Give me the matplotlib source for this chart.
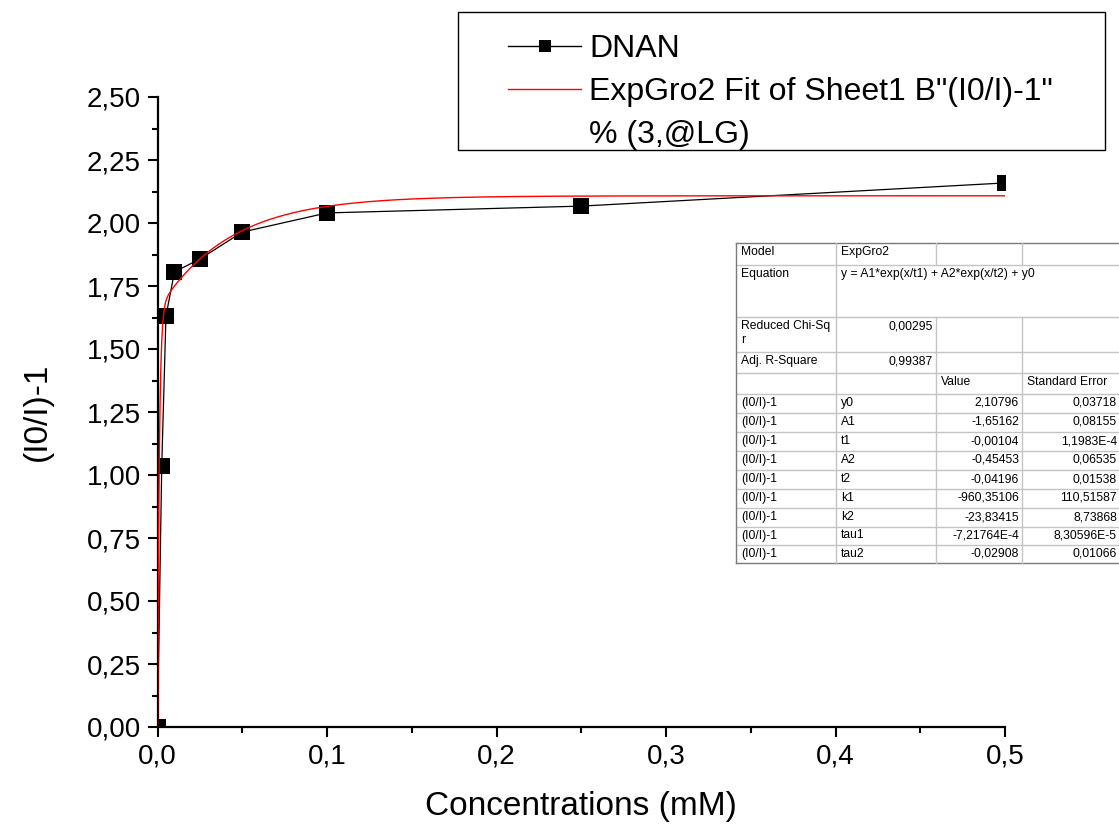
import numpy as np
import matplotlib.pyplot as plt
from matplotlib.lines import Line2D
from matplotlib.patches import Rectangle
from matplotlib.ticker import MultipleLocator, FuncFormatter

plt.rcParams['font.family'] = ['Liberation Sans', 'DejaVu Sans']

# measured quenching data for DNAN
conc = [0.0, 0.0025, 0.005, 0.01, 0.025, 0.05, 0.1, 0.25, 0.5]
response = [0.0, 1.036, 1.631, 1.806, 1.857, 1.964, 2.040, 2.067, 2.159]

# ExpGro2 fit results: y = A1*exp(x/t1) + A2*exp(x/t2) + y0
param_names = ['y0', 'A1', 't1', 'A2', 't2', 'k1', 'k2', 'tau1', 'tau2']
param_values = [2.10796, -1.65162, -0.00104, -0.45453, -0.04196,
                -960.35106, -23.83415, -7.21764e-4, -0.02908]
param_errors = [0.03718, 0.08155, 1.1983e-4, 0.06535, 0.01538,
                110.51587, 8.73868, 8.30596e-5, 0.01066]
reduced_chi_sqr = 0.00295
adj_r_square = 0.99387
dep_name = '(I0/I)-1'

W, H = 1119, 824
fig = plt.figure(figsize=(W / 100, H / 100), dpi=100)
fig.patch.set_facecolor('white')


def fx(x):
    return x / W


def fy(y):
    return 1 - y / H


ax = fig.add_axes([fx(157.5), fy(727), (1005 - 157.5) / W, (727 - 97) / H])

p = dict(zip(param_names, param_values))
x_fit = np.linspace(0, 0.5, 2001)
y_fit = p['A1'] * np.exp(x_fit / p['t1']) + p['A2'] * np.exp(x_fit / p['t2']) + p['y0']

ax.plot(conc, response, color='black', lw=0.9, marker='s', ms=11,
        markeredgewidth=0, zorder=3)
ax.plot(x_fit, y_fit, color='red', lw=1.0, zorder=4)

ax.set_xlim(0, 0.5)
ax.set_ylim(0, 2.5)
ax.xaxis.set_major_locator(MultipleLocator(0.1))
ax.xaxis.set_minor_locator(MultipleLocator(0.05))
ax.yaxis.set_major_locator(MultipleLocator(0.25))
ax.yaxis.set_minor_locator(MultipleLocator(0.125))
ax.xaxis.set_major_formatter(FuncFormatter(lambda v, _: f'{v:.1f}'.replace('.', ',')))
ax.yaxis.set_major_formatter(FuncFormatter(lambda v, _: f'{v:.2f}'.replace('.', ',')))

for side in ('top', 'right'):
    ax.spines[side].set_visible(False)
for side in ('left', 'bottom'):
    ax.spines[side].set_linewidth(1.6)
ax.tick_params(which='major', direction='out', length=7, width=1.5,
               labelsize=20, pad=5)
ax.tick_params(which='minor', direction='out', length=4, width=1.5)

ax.set_xlabel('Concentrations (mM)', fontsize=24, labelpad=15)
ax.set_ylabel('(I0/I)-1', fontsize=24, labelpad=24)

# legend: frame drawn separately so the padding can be uneven
fig.add_artist(Rectangle((fx(458), fy(150)), (1105 - 458) / W, (150 - 12) / H,
                         transform=fig.transFigure, facecolor='white',
                         edgecolor='black', lw=1.0, zorder=5))
handles = [Line2D([], [], color='black', lw=1.0, marker='s', ms=8, markeredgewidth=0),
           Line2D([], [], color='red', lw=1.0),
           Line2D([], [], linestyle='none')]
labels = ['DNAN', 'ExpGro2 Fit of Sheet1 B"(I0/I)-1"', '% (3,@LG)']
leg = fig.legend(handles, labels, loc='upper left', bbox_to_anchor=(fx(508), fy(34)),
                 bbox_transform=fig.transFigure, frameon=False, borderpad=0,
                 borderaxespad=0, handlelength=2.3, handletextpad=0.25,
                 labelspacing=0.4, fontsize=23)
leg.set_zorder(6)

# fit report table
col_edges = [736, 836, 936, 1022, 1130]
row_edges = [243, 264.5, 317, 352, 372.5, 394, 413, 432, 451, 470, 489,
             508, 526.5, 545, 563]
light, dark = '#c4c4c4', '#7a7a7a'
tfont = dict(fontsize=8.7, color='black', va='top', zorder=8)


def fmt(v):
    if abs(v) < 1e-3:
        mant, exp = f'{v:.5e}'.split('e')
        mant = mant.rstrip('0').rstrip('.')
        return f'{mant}E{int(exp)}'.replace('.', ',')
    return f'{v:.5f}'.replace('.', ',')


fig.add_artist(Rectangle((fx(col_edges[0]), fy(row_edges[-1])),
                         (col_edges[-1] - col_edges[0]) / W,
                         (row_edges[-1] - row_edges[0]) / H,
                         transform=fig.transFigure, facecolor='white',
                         edgecolor='none', zorder=7))


def hline(y, color):
    fig.add_artist(Line2D([fx(col_edges[0]), fx(col_edges[-1])], [fy(y), fy(y)],
                          transform=fig.transFigure, color=color, lw=1.0, zorder=7.5))


def vline(x, y0, y1, color):
    fig.add_artist(Line2D([fx(x), fx(x)], [fy(y0), fy(y1)],
                          transform=fig.transFigure, color=color, lw=1.0, zorder=7.5))


for i, y in enumerate(row_edges):
    hline(y, dark if i in (0, len(row_edges) - 1) else light)
vline(col_edges[0], row_edges[0], row_edges[-1], dark)
vline(col_edges[1], row_edges[0], row_edges[-1], light)
for x in col_edges[2:4]:
    vline(x, row_edges[0], row_edges[1], light)
    vline(x, row_edges[2], row_edges[-1], light)


def cell(text, col, row, align='left'):
    if align == 'left':
        x = col_edges[col] + 5
    else:
        x = col_edges[col + 1] - 3
        if col == 3:
            x = 1117
    fig.text(fx(x), fy(row_edges[row] + 3), text, ha=align, **tfont)


cell('Model', 0, 0)
cell('ExpGro2', 1, 0)
cell('Equation', 0, 1)
cell('y = A1*exp(x/t1) + A2*exp(x/t2) + y0', 1, 1)
cell('Reduced Chi-Sq\nr', 0, 2)
cell(fmt(reduced_chi_sqr), 1, 2, 'right')
cell('Adj. R-Square', 0, 3)
cell(fmt(adj_r_square), 1, 3, 'right')
cell('Value', 2, 4)
cell('Standard Error', 3, 4)
for k, (name, val, err) in enumerate(zip(param_names, param_values, param_errors)):
    r = 5 + k
    cell(dep_name, 0, r)
    cell(name, 1, r)
    cell(fmt(val), 2, r, 'right')
    cell(fmt(err), 3, r, 'right')

fig.savefig('out.png', dpi=100)
